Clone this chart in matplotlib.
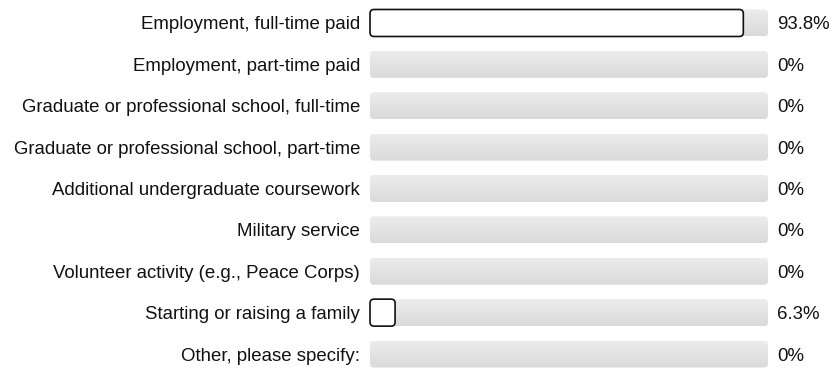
import numpy as np
import matplotlib
matplotlib.use("Agg")
import matplotlib.pyplot as plt
from matplotlib.patches import FancyBboxPatch
from matplotlib.colors import LinearSegmentedColormap

categories = [
    "Employment, full-time paid",
    "Employment, part-time paid",
    "Graduate or professional school, full-time",
    "Graduate or professional school, part-time",
    "Additional undergraduate coursework",
    "Military service",
    "Volunteer activity (e.g., Peace Corps)",
    "Starting or raising a family",
    "Other, please specify:",
]
values = [93.8, 0, 0, 0, 0, 0, 0, 6.3, 0]
value_labels = ["93.8%", "0%", "0%", "0%", "0%", "0%", "0%", "6.3%", "0%"]

plt.rcParams["font.family"] = ["Liberation Sans", "DejaVu Sans"]

W, H = 832, 377
fig = plt.figure(figsize=(W / 100, H / 100), dpi=100)
left_px, right_px = 370, 768
top_px, bottom_px = 2.3, 374.7
ax = fig.add_axes([left_px / W, 1 - bottom_px / H,
                   (right_px - left_px) / W, (bottom_px - top_px) / H])
n = len(categories)
ax.set_xlim(0, 100)
ax.set_ylim(n - 0.5, -0.5)
ax.set_autoscale_on(False)
ax.axis("off")

row_px = (bottom_px - top_px) / n
x_per_px = 100 / (right_px - left_px)
aspect = (1 / row_px) / x_per_px
bar_h = 27 / row_px
rad = 4 * x_per_px
base_off = 6.5 / row_px  # text baseline sits a bit below the bar centre

track_cmap = LinearSegmentedColormap.from_list("track", ["#ececec", "#dadada"])
grad = np.linspace(0, 1, 32).reshape(-1, 1)

for i, (cat, v, lab) in enumerate(zip(categories, values, value_labels)):
    track = FancyBboxPatch((0, i - bar_h / 2), 100, bar_h,
                           boxstyle=f"round,pad=0,rounding_size={rad}",
                           mutation_aspect=aspect, facecolor="none",
                           edgecolor="none", clip_on=False)
    ax.add_patch(track)
    im = ax.imshow(grad, cmap=track_cmap, aspect="auto", origin="upper",
                   extent=(0, 100, i + bar_h / 2, i - bar_h / 2),
                   interpolation="bilinear", zorder=1)
    im.set_clip_path(track)
    if v > 0:
        bar = FancyBboxPatch((0, i - bar_h / 2), v, bar_h,
                             boxstyle=f"round,pad=0,rounding_size={rad}",
                             mutation_aspect=aspect, facecolor="white",
                             edgecolor="#111111", linewidth=1.2,
                             clip_on=False, zorder=2)
        ax.add_patch(bar)
    ax.text(-10 * x_per_px, i + base_off, cat, ha="right", va="baseline",
            fontsize=13.4, color="#111111")
    ax.text(100 + 9 * x_per_px, i + base_off, lab, ha="left", va="baseline",
            fontsize=13.4, color="#111111")

fig.savefig("out.png", dpi=100)
